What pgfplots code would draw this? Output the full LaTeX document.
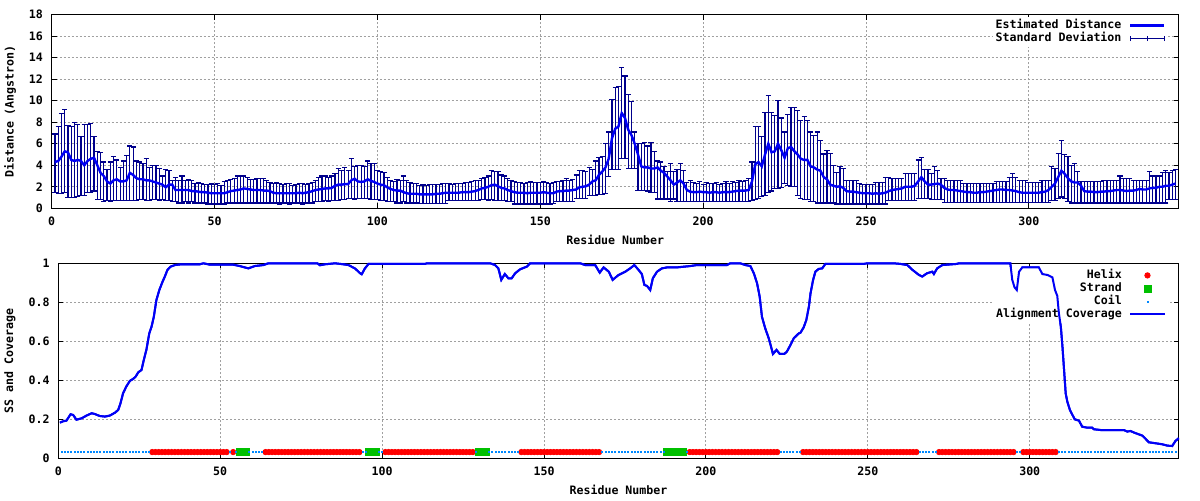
\documentclass[border=0pt]{standalone}
\usepackage{fontspec}
\setmainfont{DejaVu Sans Mono}
\usepackage{pgfplots}
\pgfplotsset{compat=1.18}
\usepackage{pgfplotstable}
\definecolor{navy}{RGB}{0,0,140}
\definecolor{lineblue}{RGB}{0,0,245}
\definecolor{gridgray}{RGB}{160,160,160}
\definecolor{helixred}{RGB}{255,0,0}
\definecolor{strandgreen}{RGB}{0,192,0}
\definecolor{coilblue}{RGB}{0,136,255}
\pgfplotstableread[row sep=\\]{
r y lo hi\\
1 4.3 1.5 6.9\\ 2 4.4 1.4 7.6\\ 3 4.8 1.4 8.8\\ 4 5.3 1.5 9.2\\ 5 5.2 1.0 7.7\\ 6 4.5 1.0 7.6\\ 7 4.4 1.0 8.0\\ 8 4.5 1.1 7.8\\ 9 4.4 1.2 6.7\\ 10 4.0 1.2 7.8\\
11 4.4 1.5 7.8\\ 12 4.6 1.5 7.9\\ 13 4.7 1.6 6.7\\ 14 4.0 0.8 5.3\\ 15 3.3 0.8 5.2\\ 16 3.0 0.6 4.3\\ 17 2.5 0.7 3.6\\ 18 2.3 0.6 4.3\\ 19 2.6 0.7 4.8\\ 20 2.7 0.7 4.5\\
21 2.5 0.7 3.8\\ 22 2.5 0.7 4.4\\ 23 2.6 0.7 4.9\\ 24 3.3 0.7 5.8\\ 25 3.1 0.7 5.7\\ 26 2.8 0.7 4.4\\ 27 2.7 0.8 4.3\\ 28 2.7 0.8 4.2\\ 29 2.6 0.7 4.6\\ 30 2.6 0.7 3.8\\
31 2.5 0.8 4.0\\ 32 2.4 0.8 4.0\\ 33 2.3 0.7 3.7\\ 34 2.2 0.8 3.0\\ 35 1.95 0.7 3.6\\ 36 2.2 0.7 3.5\\ 37 2.2 0.6 2.6\\ 38 1.7 0.6 2.9\\ 39 1.7 0.5 2.6\\ 40 1.7 0.5 3.0\\
41 1.7 0.6 2.6\\ 42 1.7 0.5 2.7\\ 43 1.6 0.6 2.6\\ 44 1.6 0.5 2.3\\ 45 1.55 0.5 2.4\\ 46 1.5 0.5 2.3\\ 47 1.5 0.5 2.2\\ 48 1.45 0.4 2.2\\ 49 1.4 0.4 2.3\\ 50 1.4 0.4 2.2\\
51 1.4 0.4 2.3\\ 52 1.4 0.4 2.1\\ 53 1.4 0.4 2.5\\ 54 1.5 0.5 2.6\\ 55 1.6 0.5 2.7\\ 56 1.65 0.5 2.8\\ 57 1.7 0.5 3.0\\ 58 1.75 0.5 3.0\\ 59 1.85 0.5 3.0\\ 60 1.8 0.5 2.9\\
61 1.75 0.5 2.7\\ 62 1.7 0.5 2.7\\ 63 1.7 0.5 2.8\\ 64 1.7 0.5 2.8\\ 65 1.65 0.5 2.8\\ 66 1.65 0.5 2.6\\ 67 1.6 0.5 2.4\\ 68 1.45 0.5 2.3\\ 69 1.4 0.5 2.4\\ 70 1.4 0.4 2.3\\
71 1.4 0.5 2.2\\ 72 1.4 0.5 2.3\\ 73 1.4 0.4 2.3\\ 74 1.4 0.5 2.1\\ 75 1.4 0.5 2.2\\ 76 1.45 0.5 2.3\\ 77 1.4 0.4 2.3\\ 78 1.45 0.5 2.2\\ 79 1.5 0.5 2.3\\ 80 1.6 0.5 2.4\\
81 1.7 0.6 2.6\\ 82 1.75 0.6 2.9\\ 83 1.8 0.6 3.0\\ 84 1.85 0.7 3.0\\ 85 1.85 0.6 2.9\\ 86 1.9 0.7 3.0\\ 87 2.1 0.7 3.2\\ 88 2.2 0.7 3.7\\ 89 2.2 0.8 3.5\\ 90 2.25 0.8 3.8\\
91 2.25 0.9 3.5\\ 92 2.6 0.9 4.6\\ 93 2.75 0.8 3.9\\ 94 2.5 0.9 4.0\\ 95 2.45 0.9 4.0\\ 96 2.5 0.9 3.9\\ 97 2.7 0.9 4.4\\ 98 2.55 0.8 4.2\\ 99 2.45 0.8 4.2\\ 100 2.3 0.8 3.5\\
101 2.2 0.7 3.4\\ 102 2.15 0.7 3.3\\ 103 1.95 0.6 2.9\\ 104 1.8 0.6 2.6\\ 105 1.7 0.6 2.5\\ 106 1.65 0.5 2.7\\ 107 1.65 0.5 2.6\\ 108 1.5 0.6 3.0\\ 109 1.4 0.5 2.6\\ 110 1.35 0.5 2.4\\
111 1.35 0.5 2.3\\ 112 1.35 0.5 2.3\\ 113 1.3 0.45 2.15\\ 114 1.3 0.45 2.2\\ 115 1.3 0.45 2.15\\ 116 1.3 0.45 2.2\\ 117 1.3 0.45 2.2\\ 118 1.35 0.45 2.2\\ 119 1.35 0.45 2.25\\ 120 1.4 0.45 2.3\\
121 1.45 0.45 2.3\\ 122 1.45 0.7 2.3\\ 123 1.45 0.75 2.2\\ 124 1.45 0.7 2.3\\ 125 1.45 0.7 2.3\\ 126 1.5 0.75 2.3\\ 127 1.5 0.7 2.4\\ 128 1.5 0.7 2.4\\ 129 1.55 0.75 2.5\\ 130 1.6 0.7 2.6\\
131 1.7 0.75 2.6\\ 132 1.85 0.8 2.8\\ 133 1.9 0.8 2.9\\ 134 2.0 0.75 3.0\\ 135 2.15 0.8 3.5\\ 136 2.2 0.75 3.4\\ 137 2.05 0.7 3.4\\ 138 1.9 0.75 3.1\\ 139 1.85 0.7 3.0\\ 140 1.7 0.65 2.8\\
141 1.6 0.6 2.6\\ 142 1.5 0.4 2.5\\ 143 1.45 0.4 2.4\\ 144 1.45 0.4 2.4\\ 145 1.45 0.4 2.3\\ 146 1.4 0.4 2.4\\ 147 1.45 0.4 2.5\\ 148 1.45 0.4 2.4\\ 149 1.45 0.4 2.4\\ 150 1.45 0.35 2.4\\
151 1.5 0.4 2.5\\ 152 1.45 0.4 2.4\\ 153 1.4 0.4 2.3\\ 154 1.4 0.45 2.4\\ 155 1.55 0.6 2.5\\ 156 1.6 0.6 2.5\\ 157 1.6 0.6 2.6\\ 158 1.65 0.6 2.8\\ 159 1.65 0.6 2.6\\ 160 1.7 0.6 2.7\\
161 1.75 0.9 3.1\\ 162 1.95 0.9 3.5\\ 163 2.0 0.9 3.5\\ 164 2.05 0.9 3.4\\ 165 2.2 1.2 3.8\\ 166 2.5 1.2 3.6\\ 167 2.6 1.2 4.4\\ 168 3.1 1.3 4.7\\ 169 3.4 1.3 4.8\\ 170 3.8 1.4 6.0\\
171 4.6 2.95 7.1\\ 172 6.5 3.6 10.1\\ 173 7.4 3.6 11.2\\ 174 7.6 3.6 11.3\\ 175 8.85 4.6 13.1\\ 176 8.4 4.6 12.3\\ 177 7.3 3.7 10.6\\ 178 6.8 3.7 9.9\\ 179 6.0 3.7 7.1\\ 180 5.0 1.65 6.0\\
181 3.9 1.65 6.0\\ 182 3.8 1.65 6.1\\ 183 3.8 1.6 5.8\\ 184 3.7 1.45 6.1\\ 185 3.7 1.45 5.3\\ 186 3.8 0.87 4.4\\ 187 3.5 0.87 4.3\\ 188 3.3 0.87 3.9\\ 189 2.95 0.87 3.4\\ 190 2.6 0.62 4.2\\
191 2.2 0.87 3.4\\ 192 2.4 0.62 3.6\\ 193 2.6 0.62 4.2\\ 194 2.3 0.62 3.5\\ 195 1.7 0.62 2.4\\ 196 1.55 0.62 2.6\\ 197 1.5 0.62 2.4\\ 198 1.5 0.62 2.3\\ 199 1.55 0.62 2.5\\ 200 1.5 0.62 2.2\\
201 1.5 0.62 2.4\\ 202 1.45 0.62 2.3\\ 203 1.5 0.62 2.3\\ 204 1.5 0.62 2.4\\ 205 1.45 0.62 2.2\\ 206 1.5 0.62 2.3\\ 207 1.5 0.62 2.5\\ 208 1.5 0.62 2.3\\ 209 1.55 0.62 2.5\\ 210 1.6 0.62 2.4\\
211 1.65 0.62 2.6\\ 212 1.65 0.62 2.5\\ 213 1.65 0.62 2.6\\ 214 1.7 0.65 2.8\\ 215 2.5 0.7 4.3\\ 216 4.1 0.8 7.6\\ 217 4.3 0.9 7.6\\ 218 3.9 1.08 6.7\\ 219 5.0 1.2 8.9\\ 220 6.0 1.49 10.5\\
221 5.2 1.6 8.9\\ 222 5.3 1.86 8.6\\ 223 6.0 1.86 10.0\\ 224 5.4 1.9 8.4\\ 225 4.7 2.3 7.1\\ 226 5.6 2.1 8.7\\ 227 5.7 2.0 9.4\\ 228 5.3 2.0 9.4\\ 229 5.0 1.2 9.1\\ 230 4.6 0.9 8.2\\
231 4.5 0.8 8.5\\ 232 4.5 0.8 8.2\\ 233 3.9 0.6 7.1\\ 234 3.8 0.6 6.8\\ 235 3.6 0.5 7.1\\ 236 3.5 0.5 6.3\\ 237 2.9 0.5 5.05\\ 238 2.7 0.5 5.4\\ 239 2.2 0.5 5.1\\ 240 2.1 0.5 4.0\\
241 2.0 0.4 3.3\\ 242 2.05 0.4 3.9\\ 243 1.9 0.4 3.7\\ 244 1.6 0.4 2.6\\ 245 1.55 0.4 2.6\\ 246 1.55 0.4 2.6\\ 247 1.5 0.4 2.6\\ 248 1.45 0.4 2.3\\ 249 1.4 0.4 2.2\\ 250 1.4 0.4 2.2\\
251 1.4 0.4 2.2\\ 252 1.35 0.4 2.2\\ 253 1.4 0.4 2.4\\ 254 1.35 0.4 2.4\\ 255 1.4 0.4 2.4\\ 256 1.45 0.4 2.9\\ 257 1.6 0.7 2.9\\ 258 1.7 0.7 2.8\\ 259 1.75 0.7 2.8\\ 260 1.8 0.7 2.8\\
261 1.85 0.7 2.8\\ 262 2.0 0.7 3.25\\ 263 2.0 0.7 3.25\\ 264 2.0 0.7 3.25\\ 265 2.1 0.7 3.25\\ 266 2.5 0.9 4.5\\ 267 2.9 0.9 4.7\\ 268 2.5 0.9 3.6\\ 269 2.2 0.9 3.6\\ 270 2.2 0.85 3.25\\
271 2.25 0.85 3.9\\ 272 2.3 0.85 3.5\\ 273 2.2 0.85 2.8\\ 274 1.9 0.55 2.8\\ 275 1.75 0.55 2.6\\ 276 1.7 0.55 2.6\\ 277 1.7 0.55 2.6\\ 278 1.65 0.55 2.6\\ 279 1.6 0.55 2.6\\ 280 1.55 0.55 2.3\\
281 1.5 0.55 2.3\\ 282 1.5 0.55 2.3\\ 283 1.45 0.55 2.3\\ 284 1.45 0.55 2.3\\ 285 1.5 0.55 2.3\\ 286 1.5 0.55 2.3\\ 287 1.55 0.55 2.3\\ 288 1.6 0.55 2.3\\ 289 1.65 0.55 2.3\\ 290 1.7 0.55 2.5\\
291 1.75 0.55 2.5\\ 292 1.75 0.55 2.5\\ 293 1.7 0.55 2.5\\ 294 1.7 0.55 2.9\\ 295 1.65 0.55 3.2\\ 296 1.6 0.55 2.9\\ 297 1.5 0.55 2.6\\ 298 1.45 0.55 2.6\\ 299 1.45 0.55 2.6\\ 300 1.45 0.55 2.4\\
301 1.45 0.55 2.4\\ 302 1.45 0.55 2.4\\ 303 1.45 0.55 2.4\\ 304 1.5 0.55 2.6\\ 305 1.55 0.55 2.6\\ 306 1.7 0.55 2.6\\ 307 2.0 0.7 3.9\\ 308 2.3 0.7 3.7\\ 309 2.9 0.9 5.1\\ 310 3.5 1.05 6.3\\
311 3.2 0.9 5.0\\ 312 2.8 0.6 4.8\\ 313 2.5 0.5 4.0\\ 314 2.4 0.5 4.2\\ 315 2.4 0.5 3.4\\ 316 2.1 0.5 2.5\\ 317 1.6 0.5 2.5\\ 318 1.55 0.5 2.5\\ 319 1.55 0.5 2.5\\ 320 1.5 0.5 2.5\\
321 1.5 0.5 2.5\\ 322 1.55 0.5 2.5\\ 323 1.55 0.5 2.6\\ 324 1.6 0.5 2.6\\ 325 1.6 0.5 2.6\\ 326 1.65 0.5 2.6\\ 327 1.7 0.5 2.6\\ 328 1.7 0.5 3.0\\ 329 1.65 0.5 2.8\\ 330 1.6 0.5 2.8\\
331 1.65 0.5 2.8\\ 332 1.65 0.5 2.6\\ 333 1.7 0.5 2.6\\ 334 1.8 0.5 2.6\\ 335 1.75 0.5 2.6\\ 336 1.75 0.5 2.6\\ 337 1.85 0.5 3.4\\ 338 1.9 0.5 3.0\\ 339 1.9 0.5 3.0\\ 340 2.0 0.5 3.0\\
341 2.0 0.5 3.3\\ 342 2.1 0.5 3.5\\ 343 2.1 0.8 3.3\\ 344 2.2 0.8 3.5\\ 345 2.3 0.8 3.6\\
}\dist
\pgfplotstableread[row sep=\\]{
x c\\
0.5 0.183\\ 1.5 0.19\\ 2.5 0.193\\ 3.8 0.226\\ 4.6 0.222\\ 5.6 0.198\\ 7.2 0.205\\ 8.7 0.219\\ 10.3 0.231\\ 11.3 0.227\\ 12.8 0.217\\ 14.4 0.214\\ 15.9 0.219\\ 17.5 0.234\\ 18.5 0.248\\ 19.2 0.282\\ 20 0.333\\ 21 0.368\\ 22.1 0.397\\ 23.1 0.407\\ 23.9 0.419\\ 24.7 0.441\\ 25.7 0.453\\ 26.4 0.504\\ 27.2 0.556\\ 28.1 0.641\\ 28.8 0.675\\ 29.5 0.726\\ 30.3 0.812\\ 31.2 0.863\\ 32.2 0.906\\ 32.9 0.932\\ 33.7 0.966\\ 34.7 0.983\\ 36 0.991\\ 38.1 0.995\\ 43.7 0.995\\ 44.8 1.0\\ 46.8 0.993\\ 54 0.993\\ 56 0.986\\ 58.7 0.974\\ 60.7 0.986\\ 63.3 0.991\\ 64.9 1.0\\ 80 1.0\\ 80.8 0.99\\ 82.4 0.995\\ 85.5 1.0\\ 88 0.995\\ 89.6 0.991\\ 91.6 0.974\\ 93.2 0.949\\ 93.7 0.944\\ 94.7 0.974\\ 95.8 0.997\\ 113.3 0.997\\ 113.8 1.0\\ 133.4 1.0\\ 134.9 0.991\\ 135.9 0.974\\ 136.8 0.915\\ 137.9 0.945\\ 139 0.923\\ 140 0.923\\ 141.1 0.949\\ 142.6 0.969\\ 144.7 0.983\\ 145.7 1.0\\ 161.2 1.0\\ 162.7 0.991\\ 165.8 0.991\\ 167.2 0.952\\ 168.4 0.979\\ 170 0.957\\ 171.2 0.915\\ 173 0.94\\ 175.1 0.957\\ 176.6 0.974\\ 177.9 0.991\\ 179.2 0.966\\ 180.2 0.945\\ 181 0.889\\ 181.8 0.884\\ 182.8 0.863\\ 183.6 0.923\\ 184.9 0.957\\ 186.4 0.974\\ 188 0.979\\ 191 0.979\\ 195.2 0.986\\ 197.2 0.991\\ 206.5 0.991\\ 207.5 1.0\\ 210.6 1.0\\ 212.2 0.991\\ 213.7 0.986\\ 214.8 0.949\\ 215.8 0.897\\ 216.6 0.829\\ 217.3 0.726\\ 218.3 0.667\\ 219.4 0.615\\ 220.1 0.573\\ 220.7 0.535\\ 221.8 0.556\\ 222.8 0.535\\ 224.2 0.535\\ 225 0.547\\ 226.1 0.581\\ 227.1 0.615\\ 228.7 0.641\\ 229.2 0.644\\ 230.2 0.672\\ 231 0.709\\ 231.8 0.778\\ 232.3 0.846\\ 233.1 0.915\\ 233.8 0.957\\ 234.8 0.971\\ 235.9 0.974\\ 236.9 0.997\\ 248.8 0.997\\ 249.8 1.0\\ 258 1.0\\ 260 0.997\\ 262.2 0.991\\ 263.8 0.966\\ 265.8 0.94\\ 266.8 0.932\\ 268.3 0.949\\ 269.9 0.957\\ 270.4 0.945\\ 271.4 0.974\\ 273 0.991\\ 277.6 0.997\\ 278 1.0\\ 294 1.0\\ 294.6 0.915\\ 295.3 0.877\\ 296 0.863\\ 296.7 0.957\\ 297.7 0.979\\ 302.8 0.979\\ 303.9 0.945\\ 305.5 0.94\\ 307 0.928\\ 307.8 0.863\\ 308.5 0.833\\ 309 0.744\\ 309.6 0.675\\ 310.1 0.573\\ 310.6 0.453\\ 311.1 0.333\\ 311.6 0.291\\ 312.4 0.248\\ 313.2 0.222\\ 313.9 0.2\\ 315.2 0.193\\ 316.2 0.162\\ 317.8 0.157\\ 319.3 0.157\\ 319.8 0.149\\ 321.9 0.145\\ 329.1 0.145\\ 330.1 0.137\\ 331.1 0.14\\ 332.2 0.132\\ 334.8 0.116\\ 336.8 0.082\\ 338.9 0.077\\ 340.9 0.072\\ 342.5 0.065\\ 344 0.063\\ 345 0.089\\ 346 0.103\\
}\cov
\pgfplotsset{gp/.style={
  scale only axis, clip=false,
  tick align=inside, tick pos=both, major tick length=2.5pt,
  every tick/.style={black, line width=0.5pt},
  grid=major, major grid style={color=gridgray, dash pattern=on 1pt off 1pt, line width=0.45pt},
  axis line style={line width=0.6pt},
  /pgf/number format/assume math mode=true,
  xticklabel style={anchor=center, yshift=-6.7pt, inner sep=0pt},
  yticklabel style={anchor=east, xshift=-4.2pt, inner sep=0pt},
  legend cell align=right, legend plot pos=right,
  legend style={draw=none, fill=white, inner sep=1pt, row sep=0pt, column sep=3.3pt, anchor=north east,
    nodes={inner sep=0.5pt, text height=4.3pt, text depth=1.2pt}},
}}
\begin{document}
{\fontsize{5.8}{7}\selectfont\bfseries
\begin{tikzpicture}
\useasboundingbox (0,0) rectangle (600pt,250pt);
\begin{axis}[gp, at={(25.85pt,145.85pt)}, anchor=south west,
  width=563.5pt, height=96.8pt,
  xmin=0, xmax=346, ymin=0, ymax=18,
  xtick={0,50,...,300}, ytick={0,2,...,18},
  xlabel={Residue Number}, xlabel style={at={(axis description cs:0.5,-0.1637)}, anchor=center},
  ylabel={Distance (Angstron)}, ylabel style={at={(axis description cs:-0.037,0.5)}, anchor=center},
  legend style={at={(axis description cs:0.9905,0.9907)}},
  reverse legend]
\addplot[draw=none, mark=none,
  /pgfplots/legend image code/.code={
    \draw[navy, line width=0.6pt] (0pt,0pt) -- (17.07pt,0pt);
    \draw[navy, line width=0.6pt] (0pt,-1.4pt) -- (0pt,1.4pt);
    \draw[navy, line width=0.6pt] (17.07pt,-1.4pt) -- (17.07pt,1.4pt);
    \draw[navy, line width=0.6pt] (8.53pt,-1.4pt) -- (8.53pt,1.4pt);},
  error bars/.cd, y dir=both, y explicit,
  error bar style={draw=navy, line width=0.6pt},
  error mark options={draw=navy, rotate=90, mark size=1.3pt, line width=0.6pt}]
  table[x=r, y=y, y error plus expr=\thisrow{hi}-\thisrow{y}, y error minus expr=\thisrow{y}-\thisrow{lo}] {\dist};
\addlegendentry{Standard Deviation}
\addplot[lineblue, line width=1.2pt, mark=none] table[x=r, y=y] {\dist};
\addlegendentry{Estimated Distance}
\end{axis}
\begin{axis}[gp, at={(29.15pt,20.85pt)}, anchor=south west,
  width=560.2pt, height=97.5pt,
  xmin=0, xmax=346, ymin=0, ymax=1,
  xtick={0,50,...,300}, ytick={0,0.2,...,1},
  xlabel={Residue Number}, xlabel style={at={(axis description cs:0.5,-0.1626)}, anchor=center},
  ylabel={SS and Coverage}, ylabel style={at={(axis description cs:-0.0431,0.5)}, anchor=center},
  legend style={at={(axis description cs:0.9904,0.9836)}}]
\addplot[helixred, only marks, mark=*, mark size=1.35pt] coordinates {
(29,.032)(30,.032)(31,.032)(32,.032)(33,.032)(34,.032)(35,.032)(36,.032)(37,.032)(38,.032)(39,.032)(40,.032)(41,.032)(42,.032)(43,.032)(44,.032)(45,.032)(46,.032)(47,.032)(48,.032)(49,.032)(50,.032)(51,.032)(52,.032)(54,.032)
(64,.032)(65,.032)(66,.032)(67,.032)(68,.032)(69,.032)(70,.032)(71,.032)(72,.032)(73,.032)(74,.032)(75,.032)(76,.032)(77,.032)(78,.032)(79,.032)(80,.032)(81,.032)(82,.032)(83,.032)(84,.032)(85,.032)(86,.032)(87,.032)(88,.032)(89,.032)(90,.032)(91,.032)(92,.032)(93,.032)
(101,.032)(102,.032)(103,.032)(104,.032)(105,.032)(106,.032)(107,.032)(108,.032)(109,.032)(110,.032)(111,.032)(112,.032)(113,.032)(114,.032)(115,.032)(116,.032)(117,.032)(118,.032)(119,.032)(120,.032)(121,.032)(122,.032)(123,.032)(124,.032)(125,.032)(126,.032)(127,.032)(128,.032)
(143,.032)(144,.032)(145,.032)(146,.032)(147,.032)(148,.032)(149,.032)(150,.032)(151,.032)(152,.032)(153,.032)(154,.032)(155,.032)(156,.032)(157,.032)(158,.032)(159,.032)(160,.032)(161,.032)(162,.032)(163,.032)(164,.032)(165,.032)(166,.032)(167,.032)
(195,.032)(196,.032)(197,.032)(198,.032)(199,.032)(200,.032)(201,.032)(202,.032)(203,.032)(204,.032)(205,.032)(206,.032)(207,.032)(208,.032)(209,.032)(210,.032)(211,.032)(212,.032)(213,.032)(214,.032)(215,.032)(216,.032)(217,.032)(218,.032)(219,.032)(220,.032)(221,.032)(222,.032)
(230,.032)(231,.032)(232,.032)(233,.032)(234,.032)(235,.032)(236,.032)(237,.032)(238,.032)(239,.032)(240,.032)(241,.032)(242,.032)(243,.032)(244,.032)(245,.032)(246,.032)(247,.032)(248,.032)(249,.032)(250,.032)(251,.032)(252,.032)(253,.032)(254,.032)(255,.032)(256,.032)(257,.032)(258,.032)(259,.032)(260,.032)(261,.032)(262,.032)(263,.032)(264,.032)(265,.032)
(272,.032)(273,.032)(274,.032)(275,.032)(276,.032)(277,.032)(278,.032)(279,.032)(280,.032)(281,.032)(282,.032)(283,.032)(284,.032)(285,.032)(286,.032)(287,.032)(288,.032)(289,.032)(290,.032)(291,.032)(292,.032)(293,.032)(294,.032)(295,.032)
(298,.032)(299,.032)(300,.032)(301,.032)(302,.032)(303,.032)(304,.032)(305,.032)(306,.032)(307,.032)(308,.032)};
\addlegendentry{Helix}
\addplot[strandgreen, only marks, mark=square*, mark size=1.75pt] coordinates {
(56,.032)(57,.032)(58,.032)(96,.032)(97,.032)(98,.032)(130,.032)(131,.032)(132,.032)(188,.032)(189,.032)(190,.032)(191,.032)(192,.032)(193,.032)};
\addlegendentry{Strand}
\addplot[coilblue, only marks, mark=square*, mark size=0.25pt] coordinates {
(1,.032)(2,.032)(3,.032)(4,.032)(5,.032)(6,.032)(7,.032)(8,.032)(9,.032)(10,.032)(11,.032)(12,.032)(13,.032)(14,.032)(15,.032)(16,.032)(17,.032)(18,.032)(19,.032)(20,.032)(21,.032)(22,.032)(23,.032)(24,.032)(25,.032)(26,.032)(27,.032)(28,.032)
(53,.032)(55,.032)(59,.032)(60,.032)(61,.032)(62,.032)(63,.032)(94,.032)(95,.032)(99,.032)(100,.032)(129,.032)
(133,.032)(134,.032)(135,.032)(136,.032)(137,.032)(138,.032)(139,.032)(140,.032)(141,.032)(142,.032)
(168,.032)(169,.032)(170,.032)(171,.032)(172,.032)(173,.032)(174,.032)(175,.032)(176,.032)(177,.032)(178,.032)(179,.032)(180,.032)(181,.032)(182,.032)(183,.032)(184,.032)(185,.032)(186,.032)(187,.032)(194,.032)
(223,.032)(224,.032)(225,.032)(226,.032)(227,.032)(228,.032)(229,.032)(266,.032)(267,.032)(268,.032)(269,.032)(270,.032)(271,.032)(296,.032)(297,.032)
(309,.032)(310,.032)(311,.032)(312,.032)(313,.032)(314,.032)(315,.032)(316,.032)(317,.032)(318,.032)(319,.032)(320,.032)(321,.032)(322,.032)(323,.032)(324,.032)(325,.032)(326,.032)(327,.032)(328,.032)(329,.032)(330,.032)(331,.032)(332,.032)(333,.032)(334,.032)(335,.032)(336,.032)(337,.032)(338,.032)(339,.032)(340,.032)(341,.032)(342,.032)(343,.032)(344,.032)(345,.032)};
\addlegendentry{Coil}
\addplot[lineblue, line width=1pt, mark=none] table[x=x, y=c] {\cov};
\addlegendentry{Alignment Coverage}
\end{axis}
% same axis again, without decorations, so that the coverage line lies over the legend box as in the reference
\begin{axis}[at={(29.15pt,20.85pt)}, anchor=south west, scale only axis, clip=false, hide axis,
  width=560.2pt, height=97.5pt, xmin=0, xmax=346, ymin=0, ymax=1]
\addplot[lineblue, line width=1pt, mark=none] table[x=x, y=c] {\cov};
\end{axis}
\end{tikzpicture}}
\end{document}
